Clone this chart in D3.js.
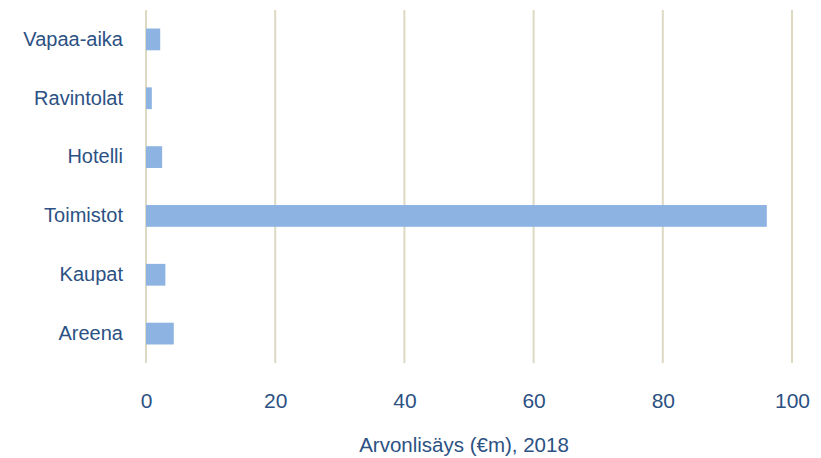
<!DOCTYPE html>
<html>
<head>
<meta charset="utf-8">
<script src="https://cdn.jsdelivr.net/npm/d3@7"></script>
<style>
  body { margin: 0; background: #fff; }
  text { font-family: "Liberation Sans", Arial, sans-serif; fill: #2C5183; }
</style>
</head>
<body>
<div id="chart"></div>
<script>
// data
var categories = ["Vapaa-aika", "Ravintolat", "Hotelli", "Toimistot", "Kaupat", "Areena"];
var values = [2.2, 0.9, 2.5, 96.1, 3.0, 4.3];
var xTicks = [0, 20, 40, 60, 80, 100];
var xTitle = "Arvonlisäys (€m), 2018";

var svgWidth = 821;
var svgHeight = 458;

var margin = { top: 10, right: 29, bottom: 95, left: 146 };
var width = svgWidth - margin.left - margin.right;
var height = svgHeight - margin.top - margin.bottom;

var data = categories.map((c, i) => ({ name: c, value: values[i] }));

var svg = d3.select("#chart")
  .append("svg")
  .attr("width", svgWidth)
  .attr("height", svgHeight);

var chartGroup = svg.append("g")
  .attr("transform", `translate(${margin.left}, ${margin.top})`);

var xScale = d3.scaleLinear()
  .domain([0, 100])
  .range([0, width]);

var yScale = d3.scaleBand()
  .domain(categories)
  .range([0, height])
  .paddingInner(0.63)
  .paddingOuter(0.315);

// gridlines
chartGroup.selectAll(".grid")
  .data(xTicks)
  .enter()
  .append("line")
  .attr("x1", d => xScale(d))
  .attr("x2", d => xScale(d))
  .attr("y1", 0)
  .attr("y2", height)
  .attr("stroke", "#DDD9C3")
  .attr("stroke-width", 2);

// bars
chartGroup.selectAll(".bar")
  .data(data)
  .enter()
  .append("rect")
  .attr("x", xScale(0))
  .attr("y", d => yScale(d.name))
  .attr("width", d => xScale(d.value) - xScale(0))
  .attr("height", yScale.bandwidth())
  .attr("fill", "#8DB3E2");

// x axis labels
var bottomAxis = d3.axisBottom(xScale).tickValues(xTicks).tickSize(0).tickPadding(30);
var xAxis = chartGroup.append("g")
  .attr("transform", `translate(0, ${height})`)
  .call(bottomAxis);
xAxis.select(".domain").remove();
xAxis.selectAll("text")
  .style("font-size", "21px")
  .style("font-family", "'Liberation Sans', sans-serif")
  .attr("fill", "#2C5183");

// y axis labels
var leftAxis = d3.axisLeft(yScale).tickSize(0).tickPadding(23);
var yAxis = chartGroup.append("g").call(leftAxis);
yAxis.select(".domain").remove();
yAxis.selectAll("text")
  .style("font-size", "20px")
  .style("font-family", "'Liberation Sans', sans-serif")
  .attr("fill", "#2C5183");

// axis title
chartGroup.append("text")
  .attr("x", (xScale(0) + xScale(100)) / 2 - 5)
  .attr("y", height + 89)
  .attr("text-anchor", "middle")
  .style("font-size", "20.5px")
  .text(xTitle);
</script>
</body>
</html>
